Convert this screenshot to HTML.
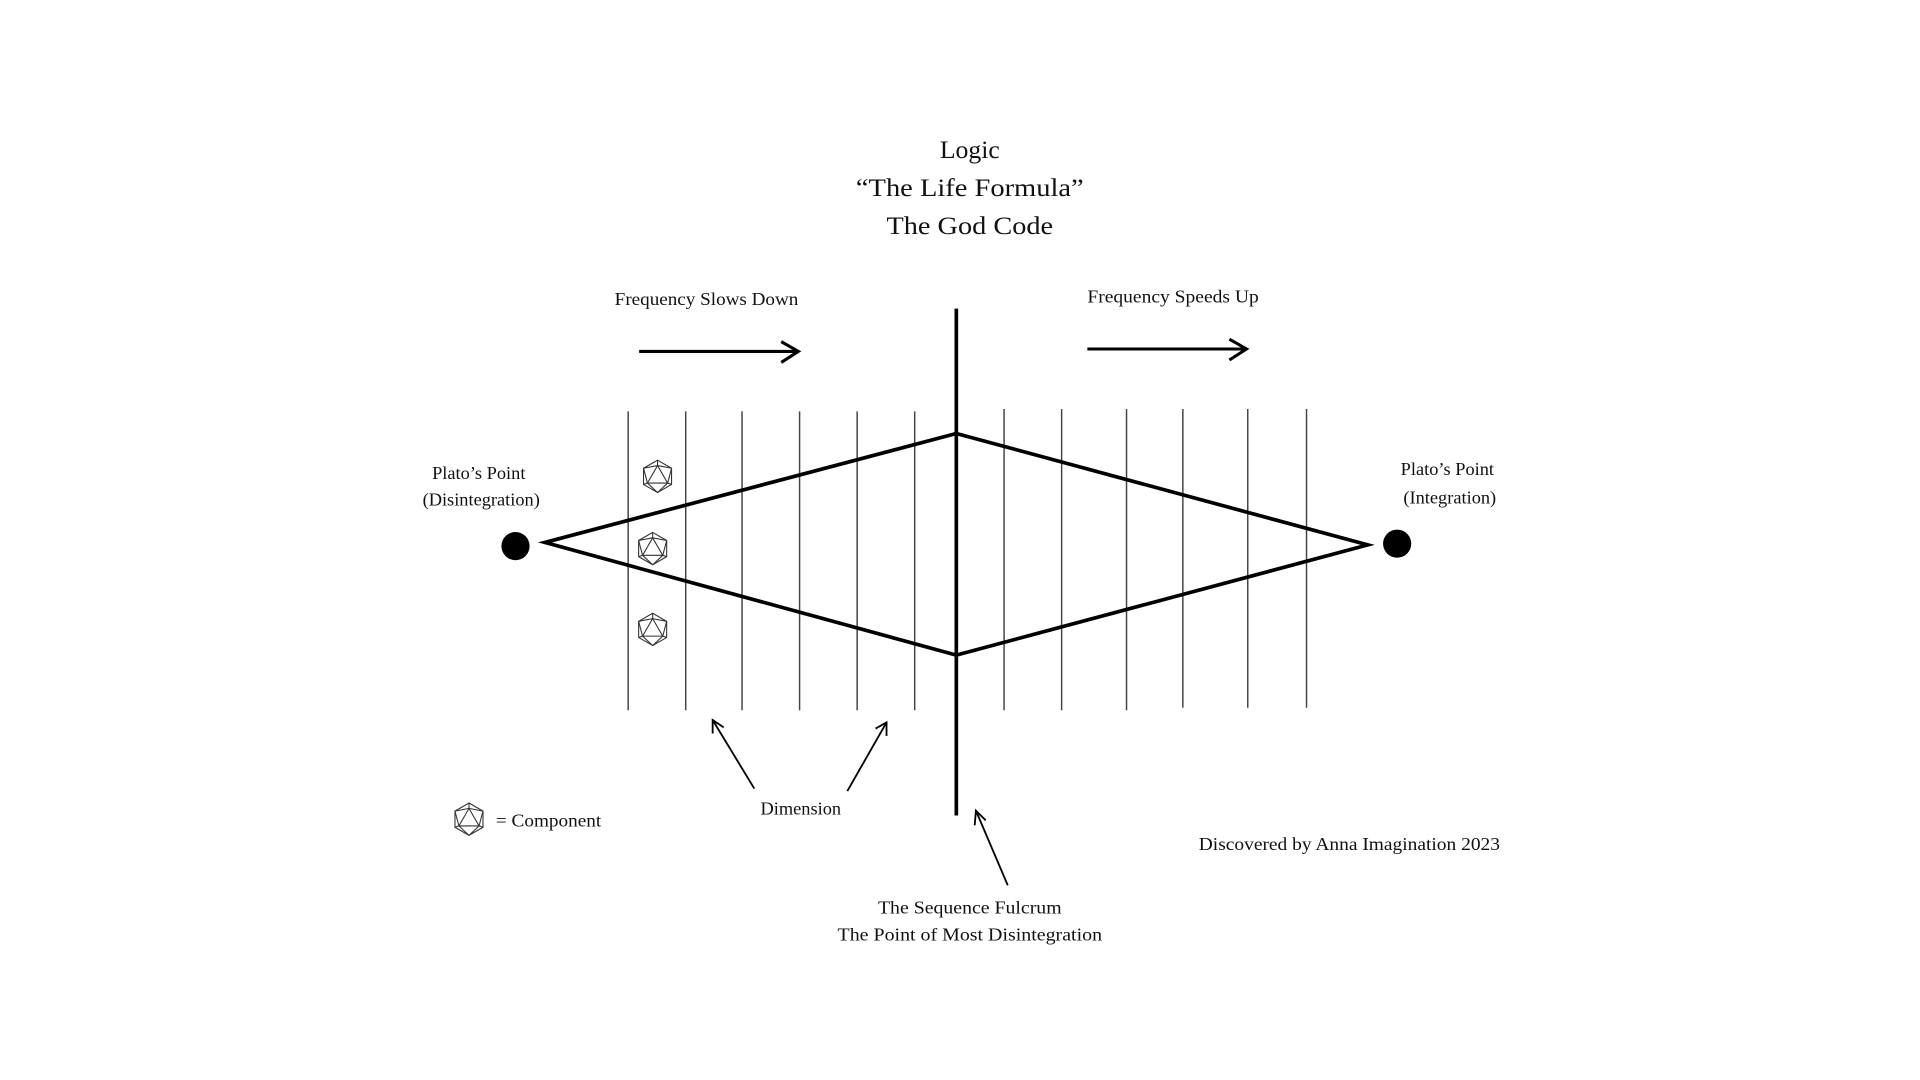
<!DOCTYPE html>
<html><head><meta charset="utf-8"><style>
html,body{margin:0;padding:0;background:#fff;width:1920px;height:1080px;overflow:hidden}
svg{display:block}
text{font-family:"Liberation Serif",serif;fill:#111}
</style></head><body>
<svg width="1920" height="1080" viewBox="0 0 1568 882" xmlns="http://www.w3.org/2000/svg">
<defs>
<g id="ico" fill="none" stroke="#333" stroke-width="0.8" transform="scale(1.1)">
<polygon points="0,-12 10.4,-6 10.4,6 0,12 -10.4,6 -10.4,-6"/>
<polygon points="0,-8 7.5,5 -7.5,5"/>
<line x1="0" y1="-12" x2="0" y2="-8"/><line x1="10.4" y1="-6" x2="0" y2="-8"/><line x1="-10.4" y1="-6" x2="0" y2="-8"/>
<line x1="10.4" y1="-6" x2="7.5" y2="5"/><line x1="-10.4" y1="-6" x2="-7.5" y2="5"/>
<line x1="10.4" y1="6" x2="7.5" y2="5"/><line x1="-10.4" y1="6" x2="-7.5" y2="5"/>
<line x1="0" y1="12" x2="7.5" y2="5"/><line x1="0" y1="12" x2="-7.5" y2="5"/>
</g>
</defs>
<g text-anchor="middle" font-size="21">
<text x="792" y="129">Logic</text>
<text x="792" y="160" textLength="186" lengthAdjust="spacingAndGlyphs">“The Life Formula”</text>
<text x="792" y="191" textLength="136" lengthAdjust="spacingAndGlyphs">The God Code</text>
</g>
<g font-size="15" text-anchor="middle">
<text x="577" y="249" textLength="150" lengthAdjust="spacingAndGlyphs">Frequency Slows Down</text>
<text x="958" y="247" textLength="140" lengthAdjust="spacingAndGlyphs">Frequency Speeds Up</text>
<text x="391" y="391">Plato’s Point</text>
<text x="393" y="413">(Disintegration)</text>
<text x="1182" y="388">Plato’s Point</text>
<text x="1184" y="411">(Integration)</text>
<text x="654" y="665">Dimension</text>
<text x="792" y="746" textLength="150" lengthAdjust="spacingAndGlyphs">The Sequence Fulcrum</text>
<text x="792" y="768" textLength="216" lengthAdjust="spacingAndGlyphs">The Point of Most Disintegration</text>
</g>
<text x="405" y="675" font-size="15" textLength="86" lengthAdjust="spacingAndGlyphs">= Component</text>
<text x="979" y="694" font-size="15" textLength="246" lengthAdjust="spacingAndGlyphs">Discovered by Anna Imagination 2023</text>
<g stroke="#444" stroke-width="1.2">
<line x1="513" y1="336" x2="513" y2="580"/><line x1="560" y1="336" x2="560" y2="580"/>
<line x1="606" y1="336" x2="606" y2="580"/><line x1="653" y1="336" x2="653" y2="580"/>
<line x1="700" y1="336" x2="700" y2="580"/><line x1="747" y1="336" x2="747" y2="580"/>
<line x1="820" y1="334" x2="820" y2="580"/><line x1="867" y1="334" x2="867" y2="580"/>
<line x1="920" y1="334" x2="920" y2="580"/><line x1="966" y1="334" x2="966" y2="578"/>
<line x1="1019" y1="334" x2="1019" y2="578"/><line x1="1067" y1="334" x2="1067" y2="578"/>
</g>
<line x1="781" y1="252" x2="781" y2="666" stroke="#000" stroke-width="3"/>
<polygon points="445,443 781,354 1117,445 781,535" fill="none" stroke="#000" stroke-width="3" stroke-linejoin="miter"/>
<circle cx="421" cy="446" r="11.5" fill="#000"/>
<circle cx="1141" cy="444" r="11.5" fill="#000"/>
<g stroke="#000" stroke-width="2.5" fill="none">
<line x1="522" y1="287" x2="652" y2="287"/><polyline points="638,279 652,287 638,296"/>
<line x1="888" y1="285" x2="1018" y2="285"/><polyline points="1004,277 1018,285 1004,294"/>
</g>
<g stroke="#000" stroke-width="1.5" fill="none">
<line x1="616" y1="644" x2="582" y2="588"/><polyline points="582,599 582,588 591,594"/>
<line x1="692" y1="646" x2="724" y2="590"/><polyline points="715,595 724,590 724,601"/>
<line x1="823" y1="723" x2="797" y2="662"/><polyline points="796,674 797,662 805,670"/>
</g>
<use href="#ico" x="537" y="389"/>
<use href="#ico" x="533" y="448"/>
<use href="#ico" x="533" y="514"/>
<use href="#ico" x="383" y="669"/>
</svg>
</body></html>
